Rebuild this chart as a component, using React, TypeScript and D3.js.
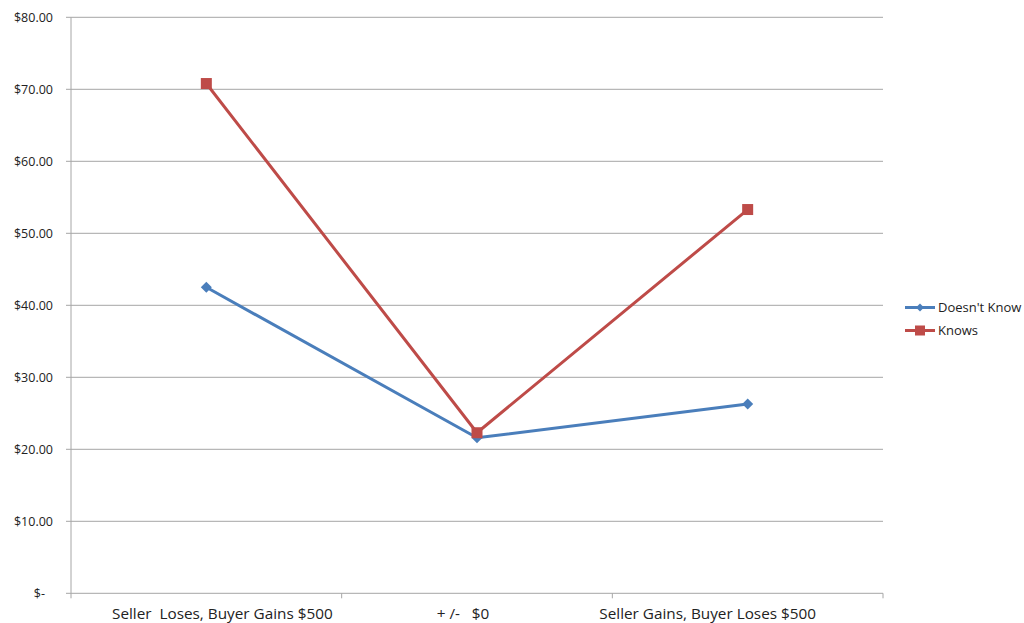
import React from "react";
import * as d3 from "d3";

const categories = ["Seller  Loses, Buyer Gains $500", "+ /-   $0", "Seller Gains, Buyer Loses $500"];
const doesntKnow = [42.5, 21.6, 26.3];
const knows = [70.8, 22.3, 53.3];
const yTicks = [0, 10, 20, 30, 40, 50, 60, 70, 80];
const seriesNames = ["Doesn't Know", "Knows"];

const W = 1024, H = 623;
const left = 71, right = 883, top = 17.3, bottom = 593.3;
const BLUE = "#4a7ebb", RED = "#be4b48", GRID = "#a6a6a6";
const FONT = "Open Sans, Lato, sans-serif";
const LABEL_DX = [16, -14, -40];

const fmt = (v: number) => (v === 0 ? "$-" : "$" + v.toFixed(2));

export default function App() {
  const x = d3.scaleBand<string>().domain(categories).range([left, right]).padding(0);
  const y = d3.scaleLinear().domain([0, 80]).range([bottom, top]);
  const cx = (c: string) => (x(c) as number) + x.bandwidth() / 2;
  const line = d3.line<[number, number]>().x(d => d[0]).y(d => d[1]);

  const ptsBlue: [number, number][] = categories.map((c, i) => [cx(c), y(doesntKnow[i])]);
  const ptsRed: [number, number][] = categories.map((c, i) => [cx(c), y(knows[i])]);

  const diamond = (px: number, py: number, r = 5.5) =>
    `M${px},${py - r}L${px + r},${py}L${px},${py + r}L${px - r},${py}Z`;

  const catTicks = [left, ...categories.map(c => (x(c) as number) + x.bandwidth())];

  return (
    <svg width={W} height={H} style={{ position: "absolute", left: 0, top: 0, background: "#fff" }}>
      {yTicks.map(t => (
        <g key={t}>
          {t > 0 && <line x1={left} x2={right} y1={y(t)} y2={y(t)} stroke={GRID} strokeWidth={1} />}
          <line x1={left - 5} x2={left} y1={y(t)} y2={y(t)} stroke={GRID} strokeWidth={1} />
          <text x={t === 0 ? 45 : 53} y={y(t)} dy="0.35em" textAnchor="end" fontFamily={FONT} fontSize={12.5} fill="#222">
            {fmt(t)}
          </text>
        </g>
      ))}
      <line x1={left} x2={left} y1={top} y2={bottom} stroke={GRID} strokeWidth={1} />
      <line x1={left} x2={right} y1={bottom} y2={bottom} stroke={GRID} strokeWidth={1} />
      {catTicks.map((t, i) => (
        <line key={i} x1={t} x2={t} y1={bottom} y2={bottom + 5} stroke={GRID} strokeWidth={1} />
      ))}
      {categories.map((c, i) => (
        <text key={c} x={cx(c) + LABEL_DX[i]} y={614} dy="0.35em" textAnchor="middle" fontFamily={FONT} fontSize={15.3} fill="#222" style={{ whiteSpace: "pre" }}>
          {c}
        </text>
      ))}

      <path d={line(ptsBlue) as string} fill="none" stroke={BLUE} strokeWidth={3} strokeLinejoin="round" />
      {ptsBlue.map((p, i) => <path key={i} d={diamond(p[0], p[1])} fill={BLUE} />)}
      <path d={line(ptsRed) as string} fill="none" stroke={RED} strokeWidth={3} strokeLinejoin="round" />
      {ptsRed.map((p, i) => <rect key={i} x={p[0] - 5.5} y={p[1] - 5.5} width={11} height={11} fill={RED} />)}

      {seriesNames.map((s, i) => {
        const ly = 307.5 + i * 23;
        const col = i === 0 ? BLUE : RED;
        return (
          <g key={s}>
            <line x1={905} x2={935} y1={ly} y2={ly} stroke={col} strokeWidth={3} />
            {i === 0 ? <path d={diamond(920, ly, 4)} fill={col} /> : <rect x={915} y={ly - 5} width={10} height={10} fill={col} />}
            <text x={938} y={ly} dy="0.35em" fontFamily={FONT} fontSize={13} fill="#222">{s}</text>
          </g>
        );
      })}
    </svg>
  );
}
